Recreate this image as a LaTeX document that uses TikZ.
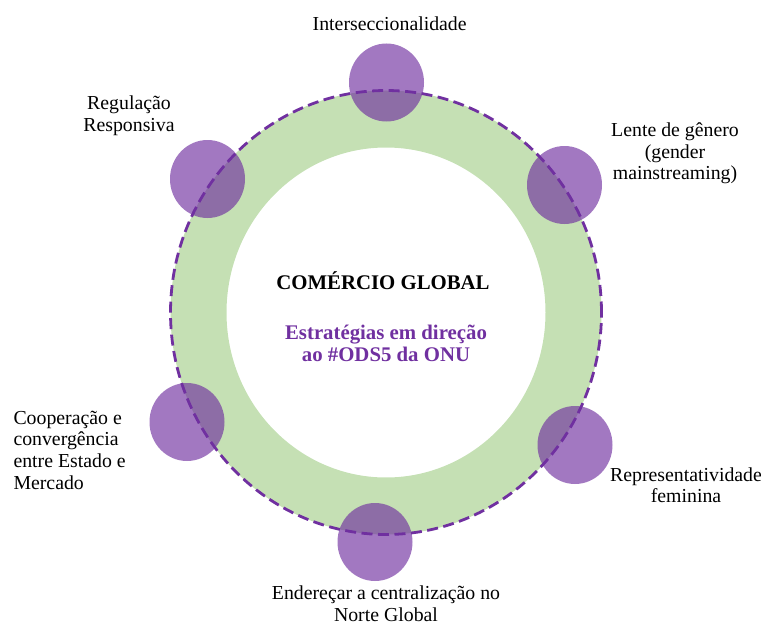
\documentclass[tikz,border=0pt]{standalone}
\usepackage{fontspec}
\setmainfont{Liberation Serif}
\definecolor{ringgreen}{HTML}{C5E0B4}
\definecolor{odspurple}{HTML}{7030A0}
\tikzset{
  ringfill/.style={fill=ringgreen, even odd rule},
  dashring/.style={draw=odspurple, line width=2.8pt, dash pattern=on 11pt off 5.5pt},
  bubble/.style={fill=odspurple, fill opacity=0.65},
  lbl/.style={inner sep=0pt, align=center, font=\fontsize{19.8}{21.6}\selectfont},
  lblleft/.style={inner sep=0pt, align=left, font=\fontsize{19.8}{21.6}\selectfont},
  titlelbl/.style={inner sep=0pt, align=center, font=\fontsize{20.8}{21.6}\selectfont\bfseries},
  sublbl/.style={inner sep=0pt, align=center, text=odspurple, font=\fontsize{20.8}{21.6}\selectfont\bfseries}
}
\begin{document}
\begin{tikzpicture}[x=1pt,y=-1pt]
\useasboundingbox (0,0) rectangle (761,626);
\coordinate (ctr) at (386,312.5);
% green ring
\path[ringfill] (ctr) ellipse [x radius=215.5pt, y radius=222pt]
                (ctr) ellipse [x radius=159.5pt, y radius=165pt];
% dashed ring
\draw[dashring] (ctr) ellipse [x radius=215.5pt, y radius=222pt];
% bubbles
\path[bubble] (386.5,82.5) ellipse [x radius=37.5pt, y radius=39pt];
\path[bubble] (564.5,185) ellipse [x radius=37.5pt, y radius=39pt];
\path[bubble] (575,445) ellipse [x radius=37.5pt, y radius=39pt];
\path[bubble] (375,542) ellipse [x radius=37.5pt, y radius=39pt];
\path[bubble] (187,422) ellipse [x radius=37.5pt, y radius=39pt];
\path[bubble] (207.5,179) ellipse [x radius=37.5pt, y radius=39pt];
% center texts
\node[titlelbl, anchor=base] (title) at (383,289) {COMÉRCIO GLOBAL};
\node[sublbl, anchor=base] (sub) at (386,361.5) {Estratégias em direção\\ao \#ODS5 da ONU};
% outer labels (anchor=base = baseline of last line)
\node[lbl, anchor=base] (l1) at (389.7,30.5) {Interseccionalidade};
\node[lbl, anchor=base] (l2) at (675,179.7) {Lente de gênero\\(gender\\mainstreaming)};
\node[lbl, anchor=base] (l3) at (686,502.6) {Representatividade\\feminina};
\node[lbl, anchor=base] (l4) at (386,621.5) {Endereçar a centralização no\\Norte Global};
\node[lblleft, anchor=base west] (l5) at (13.3,489.1) {Cooperação e\\convergência\\entre Estado e\\Mercado};
\node[lbl, anchor=base] (l6) at (129,131.1) {Regulação\\Responsiva};
\end{tikzpicture}
\end{document}
